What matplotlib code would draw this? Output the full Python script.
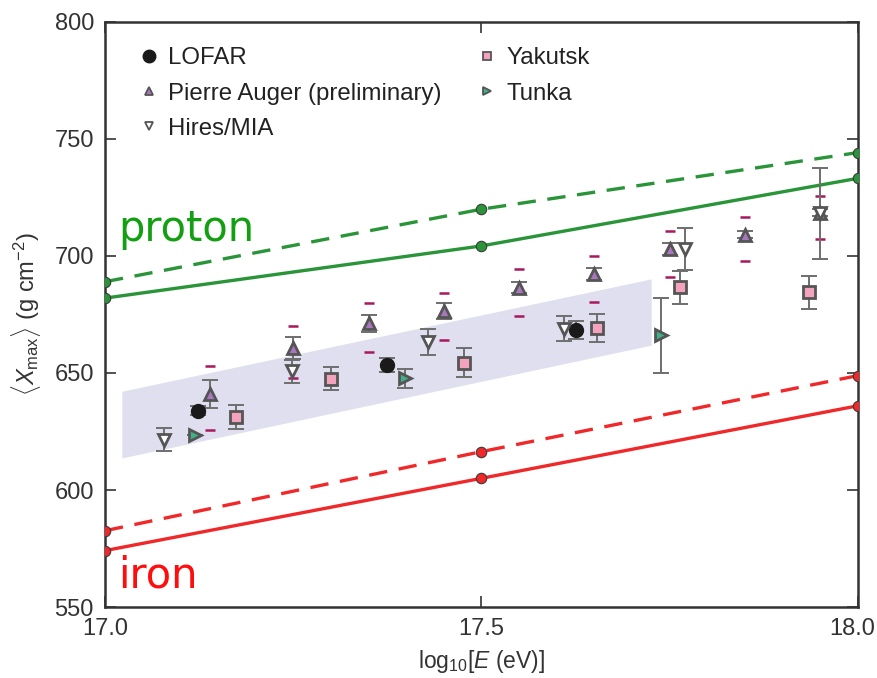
import matplotlib
matplotlib.use("Agg")
import matplotlib.pyplot as plt
import matplotlib.transforms as mtransforms
from matplotlib.lines import Line2D
from matplotlib.patches import Polygon

plt.rcParams['font.family'] = ['Liberation Sans', 'DejaVu Sans']
plt.rcParams['mathtext.fontset'] = 'custom'
plt.rcParams['mathtext.rm'] = 'Liberation Sans'
plt.rcParams['mathtext.it'] = 'Liberation Sans:italic'

# Model predictions (proton / iron), solid and dashed variants
model_x = [17.0, 17.5, 18.0]
proton_solid = [682.0, 704.3, 733.2]
proton_dashed = [689.0, 720.0, 744.2]
iron_solid = [574.1, 605.0, 636.0]
iron_dashed = [582.6, 616.4, 648.9]

# LOFAR band (corners of the shaded region)
band_x = [17.023, 17.726]
band_low = [613.5, 661.7]
band_high = [642.0, 690.0]

# LOFAR
lofar_x = [17.123, 17.374, 17.625]
lofar_y = [633.9, 653.4, 668.4]
lofar_err = [2.0, 3.0, 4.0]

# Pierre Auger (preliminary)
auger_x = [17.14, 17.25, 17.35, 17.45, 17.55, 17.65, 17.75, 17.85, 17.95]
auger_y = [640.9, 660.6, 671.2, 676.5, 686.5, 692.3, 703.0, 709.0, 718.5]
auger_err = [6.0, 4.8, 3.7, 3.5, 2.4, 2.4, 2.4, 1.5, 1.5]
auger_sys_hi = [653.1, 670.1, 680.0, 684.3, 694.3, 700.1, 710.7, 716.7, 725.6]
auger_sys_lo = [625.6, 647.7, 659.0, 664.0, 674.4, 680.2, 691.0, 697.9, 707.3]

# Hires/MIA
hires_x = [17.079, 17.249, 17.429, 17.610, 17.770, 17.950]
hires_y = [621.5, 650.8, 663.3, 669.0, 703.0, 718.2]
hires_err = [5.0, 4.9, 5.6, 5.5, 9.0, 19.4]

# Yakutsk
yak_x = [17.174, 17.300, 17.477, 17.653, 17.764, 17.935]
yak_y = [631.2, 647.5, 654.4, 669.3, 686.6, 684.5]
yak_err = [5.0, 4.9, 6.2, 5.9, 7.0, 7.0]

# Tunka
tunka_x = [17.119, 17.398, 17.739]
tunka_y = [623.5, 647.7, 666.2]
tunka_err = [0.0, 4.0, 16.0]

x_ticks = [17.0, 17.5, 18.0]
x_ticklabels = ['17.0', '17.5', '18.0']
y_ticks = [550, 600, 650, 700, 750, 800]

GREEN = '#2a9438'
RED = '#f0282a'
EDGE = '#3a3a3a'
ERRC = '#6e6e6e'
SYSC = '#a8185e'

fig = plt.figure(figsize=(8.78, 6.78), dpi=100)
ax = fig.add_axes([0.1196, 0.1047, 0.8576, 0.8629])

# shaded LOFAR band
band = Polygon([(band_x[0], band_low[0]), (band_x[1], band_low[1]),
                (band_x[1], band_high[1]), (band_x[0], band_high[0])],
               closed=True, facecolor='#dfdff0', edgecolor='none', zorder=1)
ax.add_patch(band)

# model lines
for ys, col, ls in [(proton_dashed, GREEN, (0, (5.5, 3.5))), (proton_solid, GREEN, '-'),
                    (iron_dashed, RED, (0, (5.5, 3.5))), (iron_solid, RED, '-')]:
    ax.plot(model_x, ys, color=col, lw=2.4, ls=ls, zorder=3)
    ax.plot(model_x, ys, ls='none', marker='o', ms=7.5, mfc=col, mec=EDGE,
            mew=0.8, zorder=4)

# Auger systematic ranges
ax.plot(auger_x, auger_sys_hi, ls='none', marker='_', ms=7, mew=1.8, color=SYSC, zorder=5)
ax.plot(auger_x, auger_sys_lo, ls='none', marker='_', ms=7, mew=1.8, color=SYSC, zorder=5)

# error bars
for xs, ys, es in [(lofar_x, lofar_y, lofar_err), (auger_x, auger_y, auger_err),
                   (hires_x, hires_y, hires_err), (yak_x, yak_y, yak_err),
                   (tunka_x, tunka_y, tunka_err)]:
    ax.errorbar(xs, ys, yerr=es, fmt='none', ecolor=ERRC, elinewidth=1.4,
                capsize=6, capthick=1.4, zorder=6)

styles = {
    'LOFAR': dict(marker='o', mfc='#1a1a1a', mec='#1a1a1a', ms=10, mew=1.0),
    'Pierre Auger (preliminary)': dict(marker='^', mfc='#a977bf', mec='#555555', ms=9, mew=2.0),
    'Hires/MIA': dict(marker='v', mfc='white', mec='#555555', ms=9, mew=2.0),
    'Yakutsk': dict(marker='s', mfc='#f4a3bf', mec='#555555', ms=9, mew=2.0),
    'Tunka': dict(marker='>', mfc='#3fb08a', mec='#555555', ms=9, mew=2.0),
}
series = {
    'LOFAR': (lofar_x, lofar_y),
    'Pierre Auger (preliminary)': (auger_x, auger_y),
    'Hires/MIA': (hires_x, hires_y),
    'Yakutsk': (yak_x, yak_y),
    'Tunka': (tunka_x, tunka_y),
}
for name, (xs, ys) in series.items():
    ax.plot(xs, ys, ls='none', zorder=7, **styles[name])

# legend proxies (smaller symbols)
handles = []
for name in series:
    st = dict(styles[name])
    st['ms'] = 9 if name == 'LOFAR' else 6
    st['mew'] = 1.3 if name != 'LOFAR' else 1.0
    handles.append(Line2D([], [], ls='none', **st))
leg = ax.legend(handles, list(series.keys()), loc='upper left', ncol=2,
                frameon=False, fontsize=17.3, handlelength=0.8, handletextpad=0.4,
                columnspacing=1.5, labelspacing=0.55, borderaxespad=0.0,
                bbox_to_anchor=(0.033, 0.973))
for t in leg.get_texts():
    t.set_color('#222222')

ax.text(17.017, 706.5, 'proton', color='#12a012', fontsize=30,
        family='DejaVu Sans', va='baseline', ha='left')
ax.text(17.017, 558.3, 'iron', color='#ff0d0d', fontsize=30,
        family='DejaVu Sans', va='baseline', ha='left')

ax.set_xlim(17.0, 18.0)
ax.set_ylim(550, 800)
ax.set_xticks(x_ticks)
ax.set_xticklabels(x_ticklabels)
ax.set_yticks(y_ticks)
ax.tick_params(direction='in', length=8, width=1.2, top=True, right=True,
               labelsize=17, colors='#333333', labelcolor='#333333', pad=8)
# nudge the last x tick label so it stays inside the canvas
last = ax.get_xticklabels()[-1]
last.set_transform(last.get_transform() +
                   mtransforms.ScaledTranslation(-6 / 100, 0, fig.dpi_scale_trans))
for s in ax.spines.values():
    s.set_linewidth(1.8)
    s.set_color('#333333')

ax.set_xlabel(r'log$_{10}$[$E$ (eV)]', fontsize=16.5, color='#333333', labelpad=6)
ax.set_ylabel(r'$\langle X_{\rm max}\rangle$ (g cm$^{-2}$)', fontsize=17,
              color='#333333', labelpad=8)

fig.savefig('out.png', dpi=100)
